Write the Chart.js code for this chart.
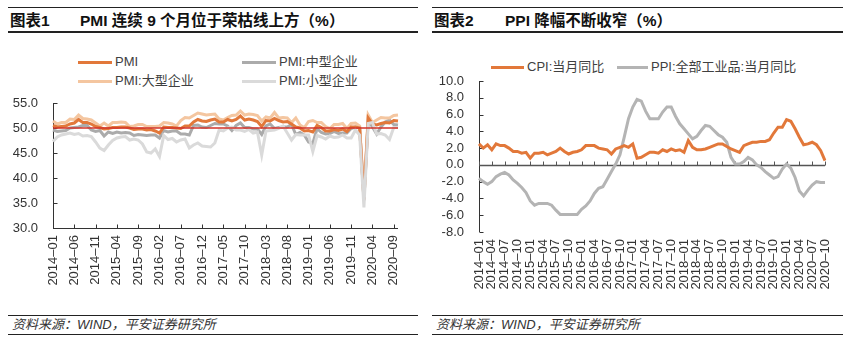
<!DOCTYPE html>
<html>
<head>
<meta charset="utf-8">
<script src="https://cdn.jsdelivr.net/npm/chart.js@4.4.0/dist/chart.umd.min.js"></script>
<style>
  body { margin: 0; background: #fff; font-family: "Liberation Sans", Arial, "Noto Sans CJK SC", sans-serif; color: #333; }
  #page { position: relative; width: 850px; height: 343px; overflow: hidden; }
  .rule { position: absolute; height: 0; border-top: 1px solid #222; }
  .rule.thick { border-top-width: 2px; }
  .title { position: absolute; top: 11px; font-size: 15.5px; font-weight: bold; line-height: 20px; color: #111; white-space: nowrap; }
  .foot { position: absolute; top: 317px; font-size: 13px; font-style: italic; line-height: 16px; color: #333; white-space: nowrap; }
  .lg { position: absolute; font-size: 13px; line-height: 16px; color: #404040; white-space: nowrap; }
  .lg i { position: absolute; top: 7px; height: 3px; }
  canvas { position: absolute; }
</style>
</head>
<body>
<div id="page">
  <div class="rule" style="left:8px;width:410px;top:7px"></div>
  <div class="title" style="left:10px">图表1</div>
  <div class="title" style="left:80px">PMI 连续 9 个月位于荣枯线上方（%）</div>
  <div class="rule thick" style="left:8px;width:410px;top:31px"></div>

  <div class="rule" style="left:432px;width:411px;top:7px"></div>
  <div class="title" style="left:434px">图表2</div>
  <div class="title" style="left:505px">PPI 降幅不断收窄（%）</div>
  <div class="rule thick" style="left:432px;width:411px;top:31px"></div>

  <div id="legend1"></div>
  <div id="legend2"></div>

  <canvas id="pmiChart" width="425" height="210" style="left:0;top:90px"></canvas>
  <canvas id="priceChart" width="425" height="230" style="left:425px;top:70px"></canvas>

  <div class="rule" style="left:8px;width:410px;top:315px"></div>
  <div class="foot" style="left:12px">资料来源：WIND，平安证券研究所</div>
  <div class="rule" style="left:8px;width:410px;top:334px"></div>

  <div class="rule" style="left:432px;width:411px;top:315px"></div>
  <div class="foot" style="left:436px">资料来源：WIND，平安证券研究所</div>
  <div class="rule" style="left:432px;width:411px;top:334px"></div>
</div>

<script>
// 2014-01 .. 2020-10
const months = [
  '2014-01','2014-02','2014-03','2014-04','2014-05','2014-06','2014-07','2014-08','2014-09','2014-10','2014-11','2014-12',
  '2015-01','2015-02','2015-03','2015-04','2015-05','2015-06','2015-07','2015-08','2015-09','2015-10','2015-11','2015-12',
  '2016-01','2016-02','2016-03','2016-04','2016-05','2016-06','2016-07','2016-08','2016-09','2016-10','2016-11','2016-12',
  '2017-01','2017-02','2017-03','2017-04','2017-05','2017-06','2017-07','2017-08','2017-09','2017-10','2017-11','2017-12',
  '2018-01','2018-02','2018-03','2018-04','2018-05','2018-06','2018-07','2018-08','2018-09','2018-10','2018-11','2018-12',
  '2019-01','2019-02','2019-03','2019-04','2019-05','2019-06','2019-07','2019-08','2019-09','2019-10','2019-11','2019-12',
  '2020-01','2020-02','2020-03','2020-04','2020-05','2020-06','2020-07','2020-08','2020-09','2020-10'
];

const pmiTotal = [
  50.5, 50.2, 50.3, 50.4, 50.8, 51.0, 51.7, 51.1, 51.1, 50.8, 50.3, 50.1,
  49.8, 49.9, 50.1, 50.1, 50.2, 50.2, 50.0, 49.7, 49.8, 49.8, 49.6, 49.7,
  49.4, 49.0, 50.2, 50.1, 50.1, 50.0, 49.9, 50.4, 50.4, 51.2, 51.7, 51.4,
  51.3, 51.6, 51.8, 51.2, 51.2, 51.7, 51.4, 51.7, 52.4, 51.6, 51.8, 51.6,
  51.3, 50.3, 51.5, 51.4, 51.9, 51.5, 51.2, 51.3, 50.8, 50.2, 50.0, 49.4,
  49.5, 49.2, 50.5, 50.1, 49.4, 49.4, 49.7, 49.5, 49.8, 49.3, 50.2, 50.2,
  50.0, 35.7, 52.0, 50.8, 50.6, 50.9, 51.1, 51.0, 51.5, 51.4
];
const pmiLarge = [
  51.4, 50.8, 51.1, 51.1, 51.8, 51.7, 52.6, 51.9, 51.8, 51.6, 51.0, 50.4,
  51.0, 50.4, 51.1, 51.1, 51.2, 51.1, 50.3, 50.4, 50.7, 50.7, 50.3, 50.3,
  50.3, 50.4, 51.1, 51.0, 50.8, 50.4, 51.5, 52.1, 52.0, 52.5, 53.0, 52.8,
  52.6, 52.7, 52.8, 51.8, 51.6, 52.1, 52.5, 52.6, 53.4, 52.6, 52.8, 52.7,
  52.5, 51.4, 52.2, 52.0, 53.1, 52.0, 52.1, 52.0, 51.1, 52.0, 50.6, 50.1,
  51.3, 51.5, 51.1, 51.1, 50.3, 49.9, 50.7, 50.7, 50.9, 49.9, 50.9, 51.0,
  50.4, 36.3, 52.6, 51.1, 51.6, 52.1, 52.0, 52.0, 52.5, 52.6
];
const pmiMedium = [
  49.6, 49.3, 49.4, 49.5, 50.0, 50.1, 50.2, 50.5, 50.5, 49.6, 49.3, 49.5,
  48.4, 49.2, 48.9, 49.2, 49.0, 49.1, 49.0, 48.5, 48.7, 48.6, 48.5, 48.6,
  48.6, 48.0, 49.5, 49.2, 49.4, 49.4, 48.8, 48.8, 48.6, 50.5, 50.6, 50.2,
  50.1, 50.5, 50.9, 50.8, 50.8, 50.4, 49.5, 50.5, 51.0, 50.1, 50.1, 49.8,
  49.8, 48.7, 50.4, 50.8, 49.9, 50.1, 50.2, 50.2, 50.7, 48.7, 49.1, 48.6,
  47.2, 46.9, 49.9, 49.1, 48.8, 48.9, 49.3, 48.9, 49.0, 49.0, 49.9, 50.2,
  50.1, 35.5, 51.6, 50.2, 48.8, 50.2, 51.2, 51.6, 50.7, 50.6
];
const pmiSmall = [
  47.3, 48.2, 48.6, 48.8, 49.0, 48.7, 48.9, 48.4, 48.5, 48.3, 47.2, 46.0,
  45.5, 46.6, 47.5, 48.0, 48.2, 48.3, 47.6, 47.8, 47.6, 46.8, 45.2, 45.0,
  45.8, 44.3, 48.5, 47.7, 47.9, 47.2, 47.6, 47.8, 46.0, 46.6, 47.0, 46.4,
  46.3, 46.2, 47.0, 49.6, 49.4, 50.0, 50.2, 49.6, 49.6, 49.3, 49.7, 49.0,
  49.2, 44.6, 49.4, 49.5, 49.6, 49.9, 50.4, 49.0, 47.6, 48.7, 48.6, 48.6,
  48.6, 45.3, 48.5, 48.2, 47.8, 48.4, 48.1, 48.2, 48.6, 48.0, 48.0, 49.6,
  48.6, 34.1, 50.9, 51.1, 48.8, 48.9, 48.6, 47.7, 50.1, 50.1
];
const pmiLine = 50; // 荣枯线

const cpiYoy = [
  2.5, 2.0, 2.4, 1.8, 2.5, 2.3, 2.3, 2.0, 1.6, 1.6, 1.4, 1.5,
  0.8, 1.4, 1.4, 1.5, 1.2, 1.4, 1.6, 2.0, 1.6, 1.3, 1.5, 1.6,
  1.8, 2.3, 2.3, 2.3, 2.0, 1.9, 1.8, 1.3, 1.9, 2.1, 2.3, 2.1,
  2.5, 0.8, 0.9, 1.2, 1.5, 1.5, 1.4, 1.8, 1.6, 1.9, 1.7, 1.8,
  1.5, 2.9, 2.1, 1.8, 1.8, 1.9, 2.1, 2.3, 2.5, 2.5, 2.2, 1.9,
  1.7, 1.5, 2.3, 2.5, 2.7, 2.7, 2.8, 2.8, 3.0, 3.8, 4.5, 4.5,
  5.4, 5.2, 4.3, 3.3, 2.4, 2.5, 2.7, 2.4, 1.7, 0.5
];
const ppiYoy = [
  -1.6, -2.0, -2.3, -2.0, -1.4, -1.1, -0.9, -1.2, -1.8, -2.2, -2.7, -3.3,
  -4.3, -4.8, -4.6, -4.6, -4.6, -4.8, -5.4, -5.9, -5.9, -5.9, -5.9, -5.9,
  -5.3, -4.9, -4.3, -3.4, -2.8, -2.6, -1.7, -0.8, 0.1, 1.2, 3.3, 5.5,
  6.9, 7.8, 7.6, 6.4, 5.5, 5.5, 5.5, 6.3, 6.9, 6.9, 5.8, 4.9,
  4.3, 3.7, 3.1, 3.4, 4.1, 4.7, 4.6, 4.1, 3.6, 3.3, 2.7, 0.9,
  0.1, 0.1, 0.4, 0.9, 0.6, 0.0, -0.3, -0.8, -1.2, -1.6, -1.4, -0.5,
  0.1, -0.4, -1.5, -3.1, -3.7, -3.0, -2.4, -2.0, -2.1, -2.1
];

const C = {
  pmi: '#E2783A', large: '#F4C6A0', medium: '#ABABAB', small: '#DADADA',
  cpi: '#E2783A', ppi: '#B4B4B4', red: '#D2332A', axis: '#333333'
};
const tickFont = { family: '"Liberation Sans", Arial, sans-serif', size: 13 };

// html legends
function addLegend(el, items) {
  items.forEach(it => {
    const d = document.createElement('div');
    d.className = 'lg';
    d.style.left = it.x + 'px';
    d.style.top = (it.y - 8) + 'px';
    d.style.paddingLeft = (it.w + 3) + 'px';
    d.innerHTML = '<i style="left:0;width:' + it.w + 'px;background:' + it.c + '"></i>' + it.t;
    el.appendChild(d);
  });
}
addLegend(document.getElementById('legend1'), [
  { t: 'PMI', c: C.pmi, x: 78, y: 62, w: 34 },
  { t: 'PMI:中型企业', c: C.medium, x: 242, y: 62, w: 34 },
  { t: 'PMI:大型企业', c: C.large, x: 78, y: 81, w: 34 },
  { t: 'PMI:小型企业', c: C.small, x: 242, y: 81, w: 34 }
]);
addLegend(document.getElementById('legend2'), [
  { t: 'CPI:当月同比', c: C.cpi, x: 491, y: 67, w: 33 },
  { t: 'PPI:全部工业品:当月同比', c: C.ppi, x: 617, y: 67, w: 31 }
]);

// axis lines and inward ticks drawn off the chart scales
const axisDeco = {
  id: 'axisDeco',
  beforeDatasetsDraw(chart, args, opts) {
    const { ctx, chartArea: a, scales: { x, y } } = chart;
    ctx.save();
    ctx.strokeStyle = C.axis;
    ctx.lineWidth = 1;
    ctx.beginPath();
    const lx = Math.round(a.left) + 0.5;
    ctx.moveTo(lx, a.top);
    ctx.lineTo(lx, a.bottom);
    y.ticks.forEach(t => {
      const py = Math.round(y.getPixelForValue(t.value)) + 0.5;
      ctx.moveTo(lx, py);
      ctx.lineTo(lx + 4, py);
    });
    ctx.stroke();

    const by = Math.round(y.getPixelForValue(opts.base)) + 0.5;
    ctx.lineWidth = opts.baseWidth;
    ctx.strokeStyle = opts.baseColor;
    ctx.beginPath();
    ctx.moveTo(a.left, by);
    ctx.lineTo(a.right, by);
    ctx.stroke();
    ctx.lineWidth = 1;
    ctx.beginPath();
    for (let i = 0; i < chart.data.labels.length; i += opts.step) {
      const px = Math.round(x.getPixelForValue(i)) + 0.5;
      ctx.moveTo(px, by);
      ctx.lineTo(px, by - 4);
    }
    ctx.stroke();
    ctx.restore();
  }
};

// 荣枯线 on top of the series
const refLine = {
  id: 'refLine',
  afterDatasetsDraw(chart, args, opts) {
    if (opts.value === undefined) return;
    const { ctx, chartArea: a, scales: { y } } = chart;
    const py = y.getPixelForValue(opts.value);
    ctx.save();
    ctx.strokeStyle = opts.color;
    ctx.lineWidth = opts.width;
    ctx.beginPath();
    ctx.moveTo(a.left, py);
    ctx.lineTo(a.right, py);
    ctx.stroke();
    ctx.restore();
  }
};

function lineSet(label, data, color, order) {
  return {
    label, data, order,
    borderColor: color,
    borderWidth: 3,
    pointRadius: 0,
    tension: 0,
    fill: false
  };
}

function baseOptions(yMin, yMax, yStep, yWidth, xHeight, step, pad) {
  return {
    responsive: false,
    animation: false,
    layout: { padding: pad },
    plugins: { legend: { display: false }, tooltip: { enabled: false } },
    scales: {
      x: {
        grid: { display: false, drawTicks: false },
        border: { display: false },
        afterFit: s => { s.height = xHeight; },
        ticks: {
          autoSkip: false,
          minRotation: 90,
          maxRotation: 90,
          padding: 7,
          color: '#333',
          font: tickFont,
          callback: (v, i) => (i % step === 0 ? months[i].replace('-', '–') : null)
        }
      },
      y: {
        min: yMin,
        max: yMax,
        grid: { display: false, drawTicks: false },
        border: { display: false },
        afterFit: s => { s.width = yWidth; s.paddingTop = 0; s.paddingBottom = 0; },
        ticks: {
          stepSize: yStep,
          autoSkip: false,
          padding: 15,
          color: '#333',
          font: tickFont,
          callback: v => Number(v).toFixed(1)
        }
      }
    }
  };
}

const opt1 = baseOptions(30, 55, 5, 53, 72, 5, { top: 13, right: 27, left: 0, bottom: 0 });
opt1.plugins.axisDeco = { base: 30, baseColor: C.axis, baseWidth: 1, step: 5 };
opt1.plugins.refLine = { value: pmiLine, color: C.red, width: 1.5 };

new Chart(document.getElementById('pmiChart'), {
  type: 'line',
  data: {
    labels: months,
    datasets: [
      lineSet('PMI', pmiTotal, C.pmi, 1),
      lineSet('PMI:中型企业', pmiMedium, C.medium, 3),
      lineSet('PMI:大型企业', pmiLarge, C.large, 2),
      lineSet('PMI:小型企业', pmiSmall, C.small, 0)
    ]
  },
  options: opt1,
  plugins: [axisDeco, refLine]
});

const opt2 = baseOptions(-8, 10, 2, 54, 68, 3, { top: 11, right: 25, left: 0, bottom: 0 });
opt2.plugins.axisDeco = { base: 0, baseColor: '#555', baseWidth: 1.5, step: 3 };

new Chart(document.getElementById('priceChart'), {
  type: 'line',
  data: {
    labels: months,
    datasets: [
      lineSet('CPI:当月同比', cpiYoy, C.cpi, 0),
      lineSet('PPI:全部工业品:当月同比', ppiYoy, C.ppi, 1)
    ]
  },
  options: opt2,
  plugins: [axisDeco, refLine]
});
</script>
</body>
</html>
